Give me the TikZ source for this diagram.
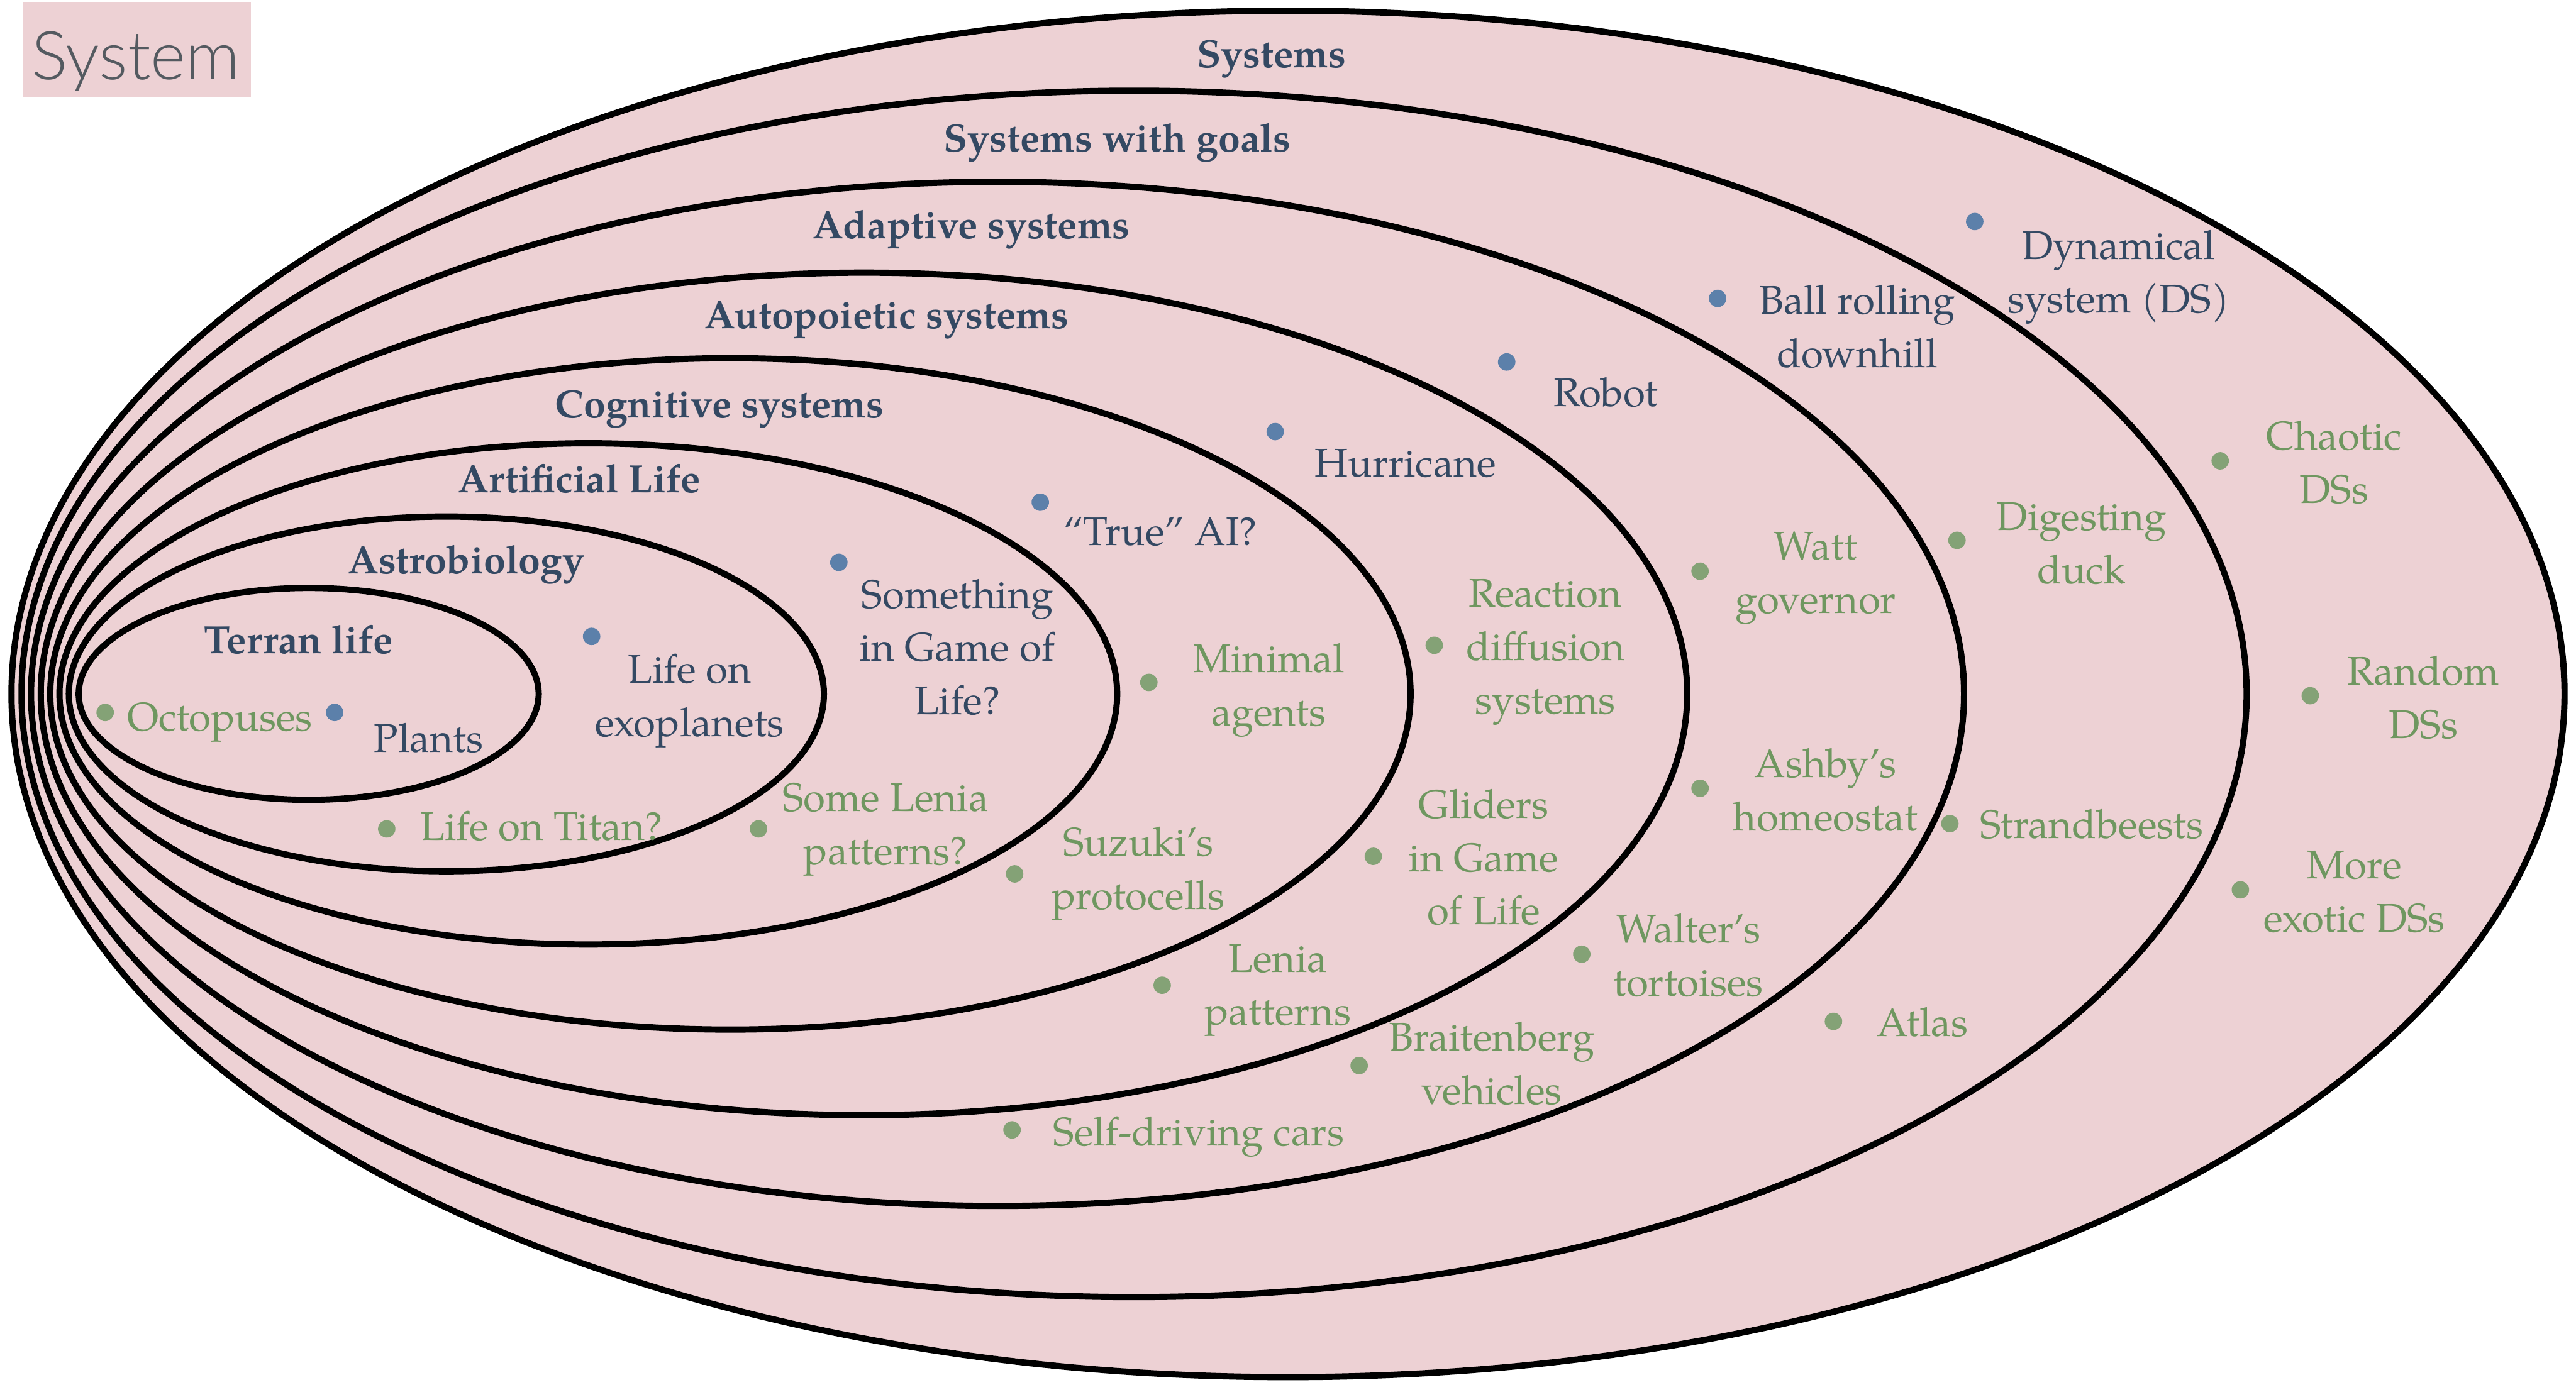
\documentclass[tikz,border=0pt]{standalone}
\usepackage{fontspec}
\setmainfont{TeX Gyre Pagella}
\setsansfont{TeX Gyre Heros}
\newfontfamily\tagfont{Lato Light}
\definecolor{pinkfill}{RGB}{237,209,212}
\definecolor{navy}{RGB}{52,73,99}
\definecolor{bluedot}{RGB}{92,128,170}
\definecolor{greentext}{RGB}{111,151,96}
\definecolor{greendot}{RGB}{132,162,118}
\definecolor{titlegray}{RGB}{84,90,96}
\begin{document}
\begin{tikzpicture}[x=0.5pt,y=-0.5pt]
\tikzset{
  ring/.style={draw=black, line width=1.9pt, fill=pinkfill},
  lbl/.style={font=\fontsize{12}{16.25}\selectfont\bfseries, text=navy, inner sep=0pt, anchor=base},
  txt/.style={font=\fontsize{12.2}{16.25}\selectfont, align=center, inner sep=0pt,
              execute at begin node=\strut, execute at end node=\strut},
  posex/.style={txt, text=navy},
  negex/.style={txt, text=greentext},
  bdot/.style={circle, fill=bluedot, inner sep=0pt, minimum size=5.3pt},
  gdot/.style={circle, fill=greendot, inner sep=0pt, minimum size=5.3pt},
}
\useasboundingbox (0,0) rectangle (1568,843);

% title tag
\fill[pinkfill] (14,1.1) rectangle (152.7,59.1);
\node[anchor=base west, inner sep=0pt, text=titlegray,
      font=\tagfont\fontsize{20.5}{22}\selectfont] (title) at (18.8,48.4) {System};

% nested sets, outermost first
\draw[ring] (784,422.5)   ellipse [x radius=777,   y radius=416];
\draw[ring] (690.3,422.5) ellipse [x radius=677.2, y radius=367.3];
\draw[ring] (607.2,422.5) ellipse [x radius=588.3, y radius=311.8];
\draw[ring] (525.9,422.5) ellipse [x radius=501.1, y radius=256.5];
\draw[ring] (444.6,422.5) ellipse [x radius=414,   y radius=204.4];
\draw[ring] (358.1,422.5) ellipse [x radius=321.9, y radius=152.6];
\draw[ring] (271.7,422.5) ellipse [x radius=229.8, y radius=108];
\draw[ring] (187.9,422.5) ellipse [x radius=140,   y radius=64.5];

% set names
\node[lbl] (lsys)  at (774,41)    {Systems};
\node[lbl] (lgoal) at (680,92.5)  {Systems with goals};
\node[lbl] (ladap) at (591.3,145.1) {Adaptive systems};
\node[lbl] (lauto) at (539.7,200) {Autopoietic systems};
\node[lbl] (lcog)  at (438,254.2) {Cognitive systems};
\node[lbl] (lalf)  at (352.6,300) {Artificial Life};
\node[lbl] (lastr) at (283.8,349.4) {Astrobiology};
\node[lbl] (lterr) at (181.7,397.8) {Terran life};

% members of each set
\node[bdot] (d1) at (203.7,433.8) {};
\node[posex, anchor=base] (t1) at (261,458) {Plants};
\node[bdot] (d2) at (360.1,387.5) {};
\node[posex] (t2) at (419.8,428.2) {Life on\\exoplanets};
\node[bdot] (d3) at (510.6,342.4) {};
\node[posex] (t3) at (582.7,398.7) {Something\\in Game of\\Life?};
\node[bdot] (d4) at (633.2,305.8) {};
\node[posex, anchor=base] (t4) at (706.3,332.2) {“True” AI?};
\node[bdot] (d5) at (776.2,262.8) {};
\node[posex, anchor=base] (t5) at (855.5,290.3) {Hurricane};
\node[bdot] (d6) at (917.1,220.4) {};
\node[posex, anchor=base] (t6) at (977.3,247.3) {Robot};
\node[bdot] (d7) at (1045.5,181.7) {};
\node[posex] (t7) at (1130.5,203.5) {Ball rolling\\downhill};
\node[bdot] (d8) at (1202,134.9) {};
\node[posex] (t8) at (1289.6,170.2) {Dynamical\\system (DS)};

% examples of lower levels that are not in the next set
\node[gdot] (g1) at (64,433.8) {};
\node[negex, anchor=base] (n1) at (133.8,445) {Octopuses};
\node[gdot] (g2) at (235.4,504.7) {};
\node[negex, anchor=base] (n2) at (329.7,511.7) {Life on Titan?};
\node[gdot] (g3) at (461.7,504.7) {};
\node[negex] (n3) at (539.1,506.6) {Some Lenia\\patterns?};
\node[gdot] (g4) at (699.3,415.5) {};
\node[negex] (n4) at (772.4,421.7) {Minimal\\agents};
\node[gdot] (g5) at (617.6,532.1) {};
\node[negex] (n5) at (692.8,533.5) {Suzuki’s\\protocells};
\node[gdot] (g6) at (707.4,599.9) {};
\node[negex] (n6) at (777.8,604.5) {Lenia\\patterns};
\node[gdot] (g7) at (616,688) {};
\node[negex, anchor=base] (n7) at (729.6,697.7) {Self-driving cars};
\node[gdot] (g8) at (873,392.9) {};
\node[negex] (n8) at (940.7,398.7) {Reaction\\diffusion\\systems};
\node[gdot] (g9) at (835.9,521.4) {};
\node[negex] (n9) at (903.1,526.6) {Gliders\\in Game\\of Life};
\node[gdot] (g10) at (827.3,648.8) {};
\node[negex] (n10) at (908,652.3) {Braitenberg\\vehicles};
\node[gdot] (g11) at (962.8,581) {};
\node[negex] (n11) at (1027.8,586.2) {Walter’s\\tortoises};
\node[gdot] (g12) at (1034.8,347.8) {};
\node[negex] (n12) at (1105.2,353.5) {Watt\\governor};
\node[gdot] (g13) at (1034.8,480) {};
\node[negex] (n13) at (1111.1,485.7) {Ashby’s\\homeostat};
\node[gdot] (g14) at (1116,621.9) {};
\node[negex, anchor=base] (n14) at (1170.2,631) {Atlas};
\node[gdot] (g15) at (1191.2,329) {};
\node[negex] (n15) at (1267,335.7) {Digesting\\duck};
\node[gdot] (g16) at (1186.9,501.5) {};
\node[negex, anchor=base] (n16) at (1273.2,510.6) {Strandbeests};
\node[gdot] (g17) at (1351.4,280.6) {};
\node[negex] (n17) at (1420.7,286.3) {Chaotic\\DSs};
\node[gdot] (g18) at (1406.2,423.6) {};
\node[negex] (n18) at (1475,429.2) {Random\\DSs};
\node[gdot] (g19) at (1363.7,541.8) {};
\node[negex] (n19) at (1433.1,547.5) {More\\exotic DSs};
\end{tikzpicture}
\end{document}
